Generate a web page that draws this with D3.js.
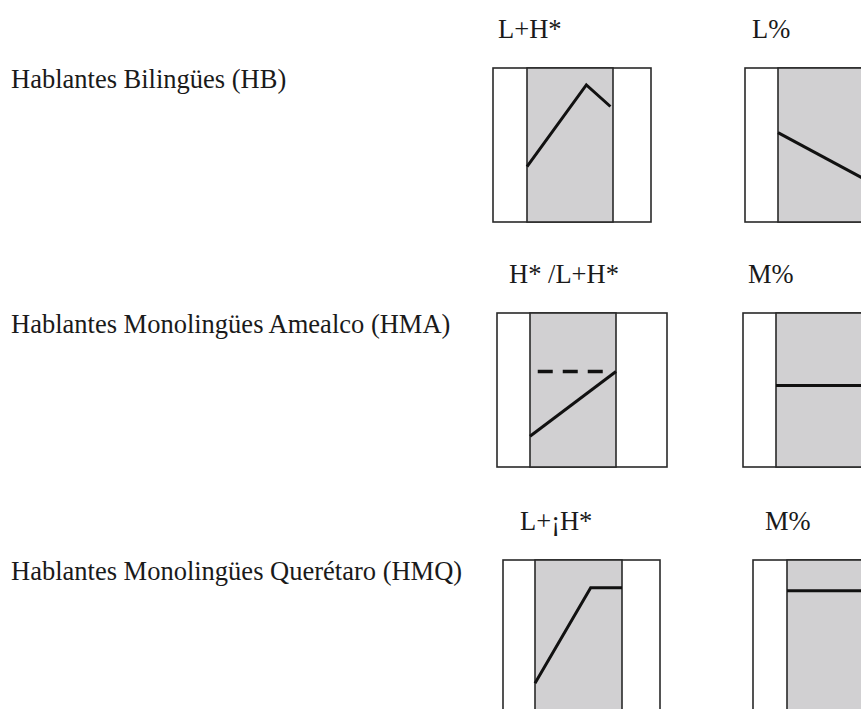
<!DOCTYPE html>
<html>
<head>
<meta charset="utf-8">
<script src="https://cdn.jsdelivr.net/npm/d3@7"></script>
<style>
  html, body { margin: 0; padding: 0; background: #fff; overflow: hidden; }
  svg { display: block; }
  text { font-family: "Liberation Serif", "Times New Roman", serif; fill: #1a1a1a; }
</style>
</head>
<body>
<svg id="chart" width="861" height="709"></svg>
<script>
// ---- data ----
const groups = [
  "Hablantes Bilingües (HB)",
  "Hablantes Monolingües Amealco (HMA)",
  "Hablantes Monolingües Querétaro (HMQ)"
];
const nuclearLabels = ["L+H*", "H* /L+H*", "L+¡H*"];
const boundaryLabels = ["L%", "M%", "M%"];
// contour points: [position within stressed syllable (0-100), relative pitch (0-100)]
const nuclearContours = [
  [[0, 36], [69, 89], [97, 75]],
  [[0, 20], [100, 62]],
  [[0, 20], [64, 82], [100, 82]]
];
const nuclearAltContours = [
  null,
  [[9, 62], [86, 62]],
  null
];
const boundaryContours = [
  [[0, 58], [100, 28]],
  [[0, 53], [100, 53]],
  [[0, 80], [100, 80]]
];

// ---- layout (positions only) ----
const rowTop = [68, 313, 560];
const boxH = 154;
const nucLayout = [
  { left: 493, pre: 34, shade: 86, post: 38, labelX: 498 },
  { left: 497, pre: 33, shade: 86, post: 51, labelX: 509 },
  { left: 503, pre: 32, shade: 87, post: 38, labelX: 520 }
];
const bndLayout = [
  { left: 745, pre: 33, shade: 86, post: 38, labelX: 752 },
  { left: 743, pre: 33, shade: 86, post: 38, labelX: 748 },
  { left: 753, pre: 34, shade: 86, post: 38, labelX: 765 }
];

const svg = d3.select("#chart");
const fontSize = "26.5px";

function drawPanel(top, lay, label, contour, alt) {
  const g = svg.append("g");
  const x0 = lay.left + lay.pre;
  const x1 = x0 + lay.shade;
  const x = d3.scaleLinear().domain([0, 100]).range([x0, x1]);
  const y = d3.scaleLinear().domain([0, 100]).range([top + boxH, top]);

  g.append("rect")
    .attr("x", lay.left).attr("y", top)
    .attr("width", lay.pre + lay.shade + lay.post).attr("height", boxH)
    .attr("fill", "#fff").attr("stroke", "#2a2a2a").attr("stroke-width", 1.6);
  g.append("rect")
    .attr("x", x0).attr("y", top)
    .attr("width", lay.shade).attr("height", boxH)
    .attr("fill", "#d1d0d2").attr("stroke", "#2a2a2a").attr("stroke-width", 1.6);

  const line = d3.line().x(d => x(d[0])).y(d => y(d[1]));
  if (alt) {
    g.append("path").datum(alt)
      .attr("d", line).attr("fill", "none")
      .attr("stroke", "#111").attr("stroke-width", 3.5)
      .attr("stroke-dasharray", "15,10");
  }
  g.append("path").datum(contour)
    .attr("d", line).attr("fill", "none")
    .attr("stroke", "#111").attr("stroke-width", 3)
    .attr("stroke-linejoin", "miter");

  g.append("text")
    .attr("x", lay.labelX).attr("y", top - 30)
    .style("font-size", fontSize)
    .text(label);
}

groups.forEach((name, i) => {
  svg.append("text")
    .attr("x", 11).attr("y", rowTop[i] + 20)
    .style("font-size", fontSize)
    .text(name);
  drawPanel(rowTop[i], nucLayout[i], nuclearLabels[i], nuclearContours[i], nuclearAltContours[i]);
  drawPanel(rowTop[i], bndLayout[i], boundaryLabels[i], boundaryContours[i], null);
});
</script>
</body>
</html>
